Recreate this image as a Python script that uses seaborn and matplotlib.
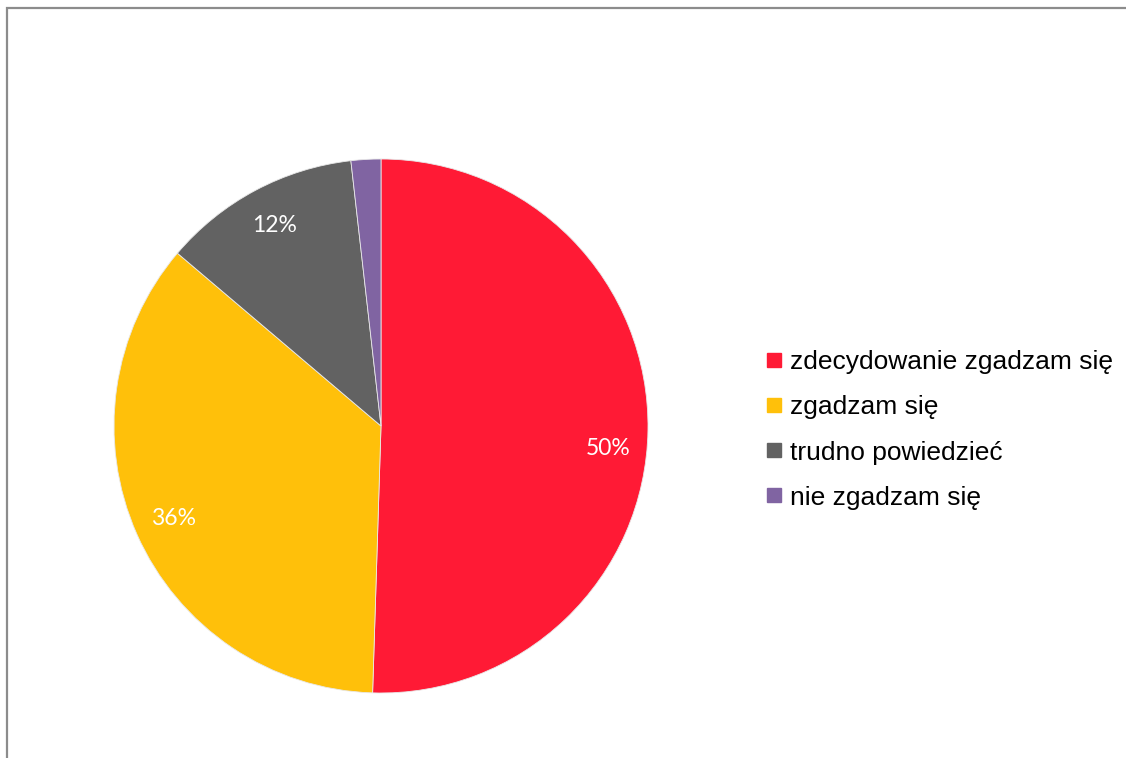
import matplotlib
matplotlib.use("Agg")
import matplotlib.pyplot as plt
import seaborn as sns
from matplotlib.patches import Rectangle
from matplotlib.lines import Line2D

sns.set_theme(style="white")
plt.rcParams['font.family'] = ['Liberation Sans', 'DejaVu Sans']

categories = ['zdecydowanie zgadzam się', 'zgadzam się', 'trudno powiedzieć', 'nie zgadzam się']
values = [50.5, 35.7, 12.0, 1.8]
colors = ['#FF1A35', '#FFC00A', '#626262', '#8064A2']

fig = plt.figure(figsize=(11.26, 7.58), dpi=100)
fig.patch.set_facecolor('white')

# chart border (only top and left visible in the reference)
fig.patches.append(Rectangle((6.5 / 1126, -0.1), 1.2, (758 - 8.5) / 758 + 0.1,
                             transform=fig.transFigure, fill=False,
                             edgecolor='#8c8c8c', linewidth=1.6))

ax = fig.add_axes([114 / 1126, 65 / 758, 534 / 1126, 534 / 758])


def fmt(p):
    return f'{p:.0f}%' if p >= 5 else ''


wedges, texts, autotexts = ax.pie(values, colors=colors, startangle=90, counterclock=False,
                                  autopct=fmt, pctdistance=0.85,
                                  wedgeprops=dict(edgecolor='#e8e8e8', linewidth=0.6))
for t in autotexts:
    t.set_color('white')
    t.set_fontsize(16.5)
    t.set_family(['Lato', 'DejaVu Sans'])
# Excel puts the first label a bit lower
x0, y0 = autotexts[0].get_position()
autotexts[0].set_position((x0, y0 - 0.07))
ax.set_xlim(-1, 1)
ax.set_ylim(-1, 1)
ax.set_aspect('equal')
ax.axis('off')

handles = [Line2D([0], [0], marker='s', linestyle='none', markersize=9.5,
                  markerfacecolor=c, markeredgecolor=c) for c in colors]
fig.legend(handles, categories, loc='center left', bbox_to_anchor=(740 / 1126, 1 - 430 / 758),
           frameon=False, fontsize=19, handletextpad=0.2, labelspacing=0.8,
           handlelength=0.8, labelcolor='black')

plt.savefig('out.png', dpi=100)
